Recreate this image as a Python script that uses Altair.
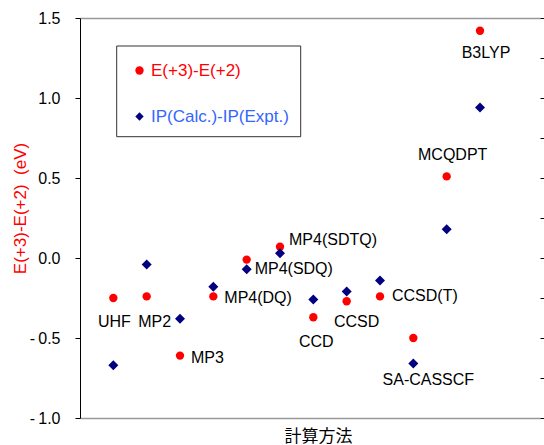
import altair as alt
import pandas as pd

# ---------------- data ----------------
methods = ["UHF", "MP2", "MP3", "MP4(DQ)", "MP4(SDQ)", "MP4(SDTQ)",
           "CCD", "CCSD", "CCSD(T)", "SA-CASSCF", "MCQDPT", "B3LYP"]
e_diff = [-0.25, -0.24, -0.61, -0.24, -0.01, 0.07,
          -0.37, -0.27, -0.24, -0.50, 0.51, 1.42]
ip_diff = [-0.67, -0.04, -0.38, -0.18, -0.07, 0.03,
           -0.26, -0.21, -0.14, -0.66, 0.18, 0.94]
series_names = ["E(+3)-E(+2)", "IP(Calc.)-IP(Expt.)"]
y_major_ticks = [-1.0, -0.5, 0.0, 0.5, 1.0, 1.5]
y_minor_ticks = [-1.0, -0.75, -0.5, -0.25, 0.0, 0.25, 0.5, 0.75, 1.0, 1.25, 1.5]
x_title = "計算方法"
y_title = "E(+3)-E(+2)\u00a0\u00a0(eV)"

rows = []
for i, m in enumerate(methods):
    rows.append({"method": m, "idx": i + 1, "series": series_names[0], "value": e_diff[i]})
    rows.append({"method": m, "idx": i + 1, "series": series_names[1], "value": ip_diff[i]})
df = pd.DataFrame(rows)

# ---------------- styles ----------------
FONT = "Liberation Sans"
RED = "#FF0000"
NAVY = "#000080"
LEGEND_BLUE = "#3366FF"
GRAY = "#999999"

# label placement: anchor series, align, dx, dy
LABEL_LAYOUT = {
    "UHF": (0, "center", 1, 24),
    "MP2": (0, "center", 8, 26),
    "MP3": (0, "left", 11, 2),
    "MP4(DQ)": (0, "left", 11, 2),
    "MP4(SDQ)": (1, "left", 8, 0),
    "MP4(SDTQ)": (0, "left", 9, -7),
    "CCD": (0, "center", 3, 25),
    "CCSD": (0, "center", 10, 21),
    "CCSD(T)": (0, "left", 12, 0),
    "SA-CASSCF": (1, "center", 15, 16),
    "MCQDPT": (0, "center", 6, -21),
    "B3LYP": (0, "center", 6, 22),
}

x_scale = alt.Scale(domain=[0, 13.8], nice=False, zero=False)
y_scale = alt.Scale(domain=[-1.0, 1.5], nice=False, zero=False)

base = alt.Chart(df)

frame = alt.Chart(pd.DataFrame({"k": [0]})).mark_rect(
    fill="white", stroke="#333333", strokeWidth=1
).encode(
    x=alt.value(36.7), x2=alt.value(220.7), y=alt.value(28), y2=alt.value(118.7)
)

red = base.transform_filter(alt.datum.series == series_names[0]).mark_point(
    filled=True, shape="circle", size=70, opacity=1
).encode(
    x=alt.X("idx:Q", scale=x_scale,
            axis=alt.Axis(orient="bottom", title=x_title, labels=False, ticks=False,
                          grid=False, domainColor=GRAY, domainWidth=1.3,
                          titleFont="Noto Sans CJK JP", titleFontSize=17,
                          titleFontWeight="normal", titleColor="black",
                          titleBaseline="middle", titleY=18, titleX=238)),
    y=alt.Y("value:Q", scale=y_scale,
            axis=alt.Axis(orient="left", values=y_major_ticks, grid=False,
                          domainColor="black", tickColor="black", tickSize=5,
                          labelFont=FONT, labelFontSize=16, labelColor="black",
                          labelPadding=15,
                          labelExpr="datum.value < 0 ? '-\u2009' + format(-datum.value, '.1f') : format(datum.value, '.1f')",
                          title=y_title, titleFont=FONT, titleFontSize=17,
                          titleFontWeight="normal", titleColor=RED,
                          titleAngle=270, titleAlign="center", titleBaseline="middle",
                          titleX=-60, titleY=190)),
    color=alt.Color("series:N",
                    scale=alt.Scale(domain=[series_names[0]], range=[RED]),
                    legend=alt.Legend(orient="none", legendX=51, legendY=44, title=None,
                                      labelColor=RED, labelFont=FONT, labelFontSize=17,
                                      symbolType="circle", symbolSize=70,
                                      symbolStrokeWidth=0, labelOffset=3, padding=0)),
)

blue = base.transform_filter(alt.datum.series == series_names[1]).mark_point(
    filled=True, shape="diamond", size=100, opacity=1
).encode(
    x=alt.X("idx:Q", scale=x_scale,
            axis=alt.Axis(orient="top", title=None, labels=False, ticks=False,
                          grid=False, domainColor=GRAY, domainWidth=1.3)),
    y=alt.Y("value:Q", scale=y_scale,
            axis=alt.Axis(orient="right", values=y_minor_ticks, labels=False,
                          domain=False, grid=False, title=None,
                          tickColor="black", tickSize=5)),
    color=alt.Color("series:N",
                    scale=alt.Scale(domain=[series_names[1]], range=[NAVY]),
                    legend=alt.Legend(orient="none", legendX=51, legendY=90, title=None,
                                      labelColor=LEGEND_BLUE, labelFont=FONT, labelFontSize=17,
                                      symbolType="diamond", symbolSize=70,
                                      symbolStrokeWidth=0, labelOffset=3, padding=0)),
)

text_layers = []
for m, (anchor, align, dx, dy) in LABEL_LAYOUT.items():
    t = base.transform_filter(
        (alt.datum.method == m) & (alt.datum.series == series_names[anchor])
    ).mark_text(
        align=align, baseline="middle", dx=dx, dy=dy,
        font=FONT, fontSize=16, color="black"
    ).encode(
        x=alt.X("idx:Q", scale=x_scale, axis=None),
        y=alt.Y("value:Q", scale=y_scale, axis=None),
        text="method:N",
    )
    text_layers.append(t)

chart = alt.layer(frame, red, blue, *text_layers).resolve_scale(
    color="independent"
).resolve_axis(
    x="independent", y="independent"
).properties(
    width=460, height=400,
    autosize=alt.AutoSizeParams(type="none"),
    padding={"left": 80, "top": 18, "right": 4, "bottom": 27},
    background="white",
).configure_view(stroke=None)

chart.save("out.html", embed_options={"renderer": "svg", "actions": False})
